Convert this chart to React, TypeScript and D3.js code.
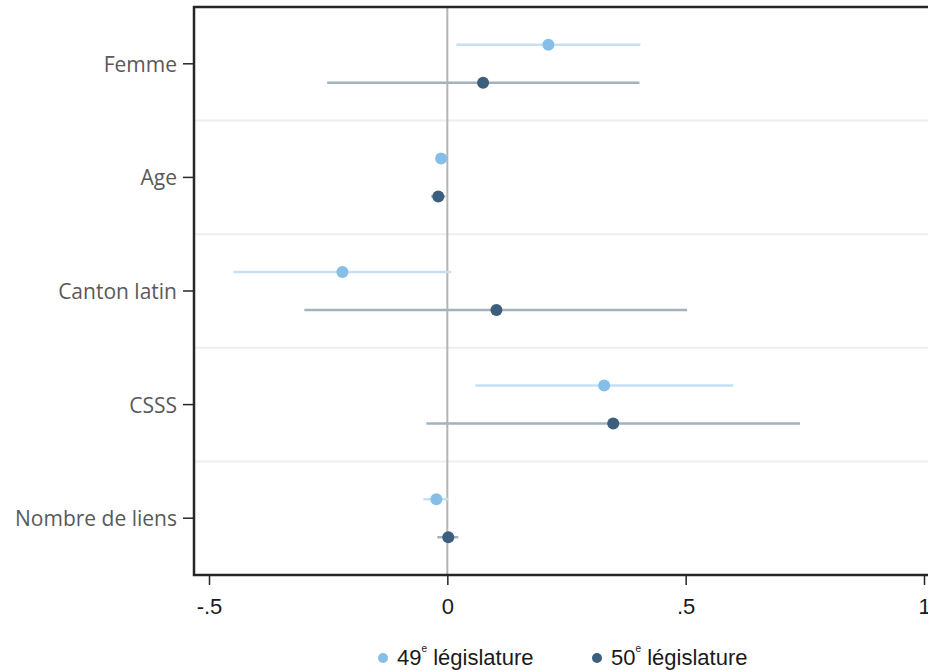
import React, { useEffect, useRef } from 'react';
import * as d3 from 'd3';

const categories = ['Femme', 'Age', 'Canton latin', 'CSSS', 'Nombre de liens'];
const seriesNames = ['49', '50'];

// point estimates and confidence bounds, per series
const est49 = [0.212, -0.013, -0.22, 0.329, -0.023];
const lo49 = [0.019, -0.022, -0.449, 0.059, -0.05];
const hi49 = [0.405, -0.004, 0.008, 0.6, 0.002];

const est50 = [0.075, -0.019, 0.103, 0.348, 0.002];
const lo50 = [-0.252, -0.034, -0.3, -0.044, -0.021];
const hi50 = [0.403, -0.004, 0.503, 0.74, 0.023];

const xTicks = [-0.5, 0, 0.5, 1];

const App = () => {
  const svgRef = useRef<SVGSVGElement | null>(null);
  const width = 928;
  const height = 670;

  useEffect(() => {
    if (!svgRef.current) return;
    const svg = d3.select(svgRef.current);
    svg.selectAll('*').remove();

    const margin = { top: 7, right: -8, bottom: 95, left: 194 };
    const labelFont = '"Open Sans", "Segoe UI", sans-serif';
    const tickFont = '"Liberation Sans", Arial, sans-serif';

    const x = d3.scaleLinear()
      .domain([-0.5, 1])
      .range([209, 924]);

    const y = d3.scaleBand()
      .domain(categories)
      .range([margin.top, height - margin.bottom])
      .paddingInner(0)
      .paddingOuter(0);

    const series = [
      { name: seriesNames[0], est: est49, lo: lo49, hi: hi49, dot: '#85bfe8', ci: '#c5e0f4', dy: -19 },
      { name: seriesNames[1], est: est50, lo: lo50, hi: hi50, dot: '#3b5f7c', ci: '#a3b2be', dy: 19 }
    ];

    // band separators
    svg.append('g')
      .selectAll('line')
      .data(categories.slice(1))
      .join('line')
      .attr('x1', margin.left)
      .attr('x2', width)
      .attr('y1', d => y(d)!)
      .attr('y2', d => y(d)!)
      .attr('stroke', '#eeeeee')
      .attr('stroke-width', 2);

    // zero line
    svg.append('line')
      .attr('x1', x(0)).attr('x2', x(0))
      .attr('y1', margin.top).attr('y2', height - margin.bottom)
      .attr('stroke', '#b4b4b4')
      .attr('stroke-width', 2);

    // CIs and points
    series.forEach(s => {
      const g = svg.append('g');
      g.selectAll('line')
        .data(categories)
        .join('line')
        .attr('x1', (d, i) => x(s.lo[i]))
        .attr('x2', (d, i) => x(s.hi[i]))
        .attr('y1', d => y(d)! + y.bandwidth() / 2 + s.dy)
        .attr('y2', d => y(d)! + y.bandwidth() / 2 + s.dy)
        .attr('stroke', s.ci)
        .attr('stroke-width', 2.5);
      g.selectAll('circle')
        .data(categories)
        .join('circle')
        .attr('cx', (d, i) => x(s.est[i]))
        .attr('cy', d => y(d)! + y.bandwidth() / 2 + s.dy)
        .attr('r', 6)
        .attr('fill', s.dot);
    });

    // frame
    svg.append('path')
      .attr('d', `M${width + 5},${margin.top} H${margin.left} V${height - margin.bottom} H${width + 5}`)
      .attr('fill', 'none')
      .attr('stroke', '#262626')
      .attr('stroke-width', 2.5);

    // y axis
    const yAxis = svg.append('g')
      .attr('transform', `translate(${margin.left},0)`)
      .call(d3.axisLeft(y).tickSize(11).tickPadding(6).tickSizeOuter(0));
    yAxis.select('.domain').remove();
    yAxis.selectAll('.tick line').attr('stroke', '#262626').attr('stroke-width', 1.5);
    yAxis.selectAll('.tick text')
      .attr('fill', '#595959')
      .attr('dy', '0.38em')
      .style('font-family', labelFont)
      .style('font-size', '21px');

    // x axis
    const xAxis = svg.append('g')
      .attr('transform', `translate(0,${height - margin.bottom})`)
      .call(d3.axisBottom(x).tickValues(xTicks).tickSize(10).tickPadding(13)
        .tickFormat(d => {
          const v = d as number;
          if (v === 0) return '0';
          if (v === 1) return '1';
          return (v < 0 ? '-' : '') + '.' + String(Math.abs(v)).split('.')[1];
        }));
    xAxis.select('.domain').remove();
    xAxis.selectAll('.tick line').attr('stroke', '#262626').attr('stroke-width', 1.5);
    xAxis.selectAll('.tick text')
      .attr('fill', '#1a1a1a')
      .style('font-family', tickFont)
      .style('font-size', '22px');

    // legend
    const legendItems = [
      { num: '49', color: series[0].dot, x: 383 },
      { num: '50', color: series[1].dot, x: 597 }
    ];
    legendItems.forEach(item => {
      svg.append('circle')
        .attr('cx', item.x)
        .attr('cy', 658)
        .attr('r', 5)
        .attr('fill', item.color);
      const t = svg.append('text')
        .attr('x', item.x + 14)
        .attr('y', 665)
        .attr('fill', '#1a1a1a')
        .style('font-family', tickFont)
        .style('font-size', '22px');
      t.append('tspan').text(item.num);
      t.append('tspan').attr('dy', -13).style('font-size', '10px').text('e');
      t.append('tspan').attr('dy', 13).text('\u00a0législature');
    });
  }, []);

  return (
    <div style={{ position: 'absolute', left: 0, top: 0, width, height, background: '#fff' }}>
      <svg ref={svgRef} width={width} height={height} style={{ display: 'block' }} />
    </div>
  );
};

export default App;
